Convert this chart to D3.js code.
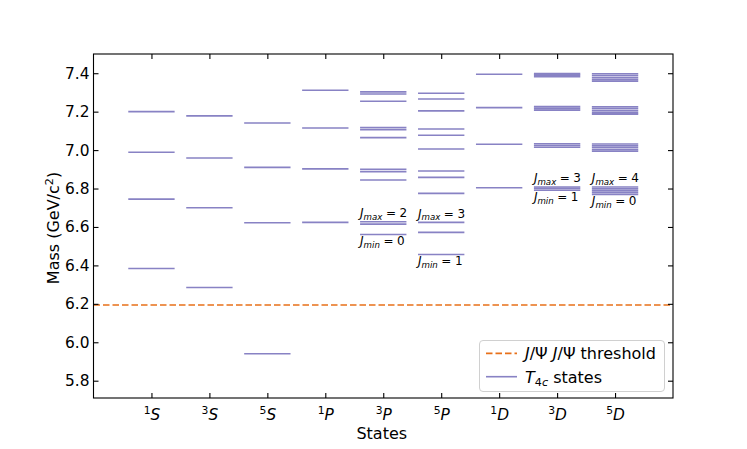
<!DOCTYPE html>
<html>
<head>
<meta charset="utf-8">
<script src="https://cdn.jsdelivr.net/npm/d3@7"></script>
<style>
  html, body { margin: 0; padding: 0; background: #fff; }
  svg { display: block; font-family: "DejaVu Sans", sans-serif; }
</style>
</head>
<body>
<svg id="chart" width="747" height="449"></svg>
<script>
// ---------------- data ----------------
const catSup   = ["1", "3", "5", "1", "3", "5", "1", "3", "5"];
const catL     = ["S", "S", "S", "P", "P", "P", "D", "D", "D"];
const categories = ["1S", "3S", "5S", "1P", "3P", "5P", "1D", "3D", "5D"];

const m1S = [7.200, 6.989, 6.745, 6.384];
const m3S = [7.178, 6.959, 6.700, 6.285];
const m5S = [7.141, 6.910, 6.622, 5.940];
const m1P = [7.311, 7.115, 6.902, 6.624];
const m3P = [7.303, 7.292, 7.254,  7.117, 7.106, 7.065,  6.900, 6.888, 6.844,  6.627, 6.615, 6.561];
const m5P = [7.296, 7.266, 7.204,  7.110, 7.077, 7.006,  6.891, 6.858, 6.775,  6.624, 6.572, 6.457];
const m1D = [7.395, 7.221, 7.030, 6.804];
const m3D = [7.398, 7.390, 7.382,  7.226, 7.217, 7.208,  7.033, 7.024, 7.015,  6.808, 6.800, 6.791];
const m5D = [7.397, 7.388, 7.378, 7.368, 7.359,  7.225, 7.215, 7.205, 7.195, 7.187,
             7.032, 7.022, 7.012, 7.002, 6.994,  6.808, 6.798, 6.788, 6.778, 6.769];
const masses = [m1S, m3S, m5S, m1P, m3P, m5P, m1D, m3D, m5D];

const threshold = 6.194;
const yTicks = [5.8, 6.0, 6.2, 6.4, 6.6, 6.8, 7.0, 7.2, 7.4];
const jLabels = [
  { state: "3P", jmax: 2, jmin: 0 },
  { state: "5P", jmax: 3, jmin: 1 },
  { state: "3D", jmax: 3, jmin: 1 },
  { state: "5D", jmax: 4, jmin: 0 }
];

// ---------------- layout ----------------
const L = 93.5, R = 673, T = 54, B = 398;
const halfW = 0.4;
const lineColor = "#5a52ad";
const lineOpacity = 0.72;
const orange = "#e8701a";
const fs = 15.4;
const lfs = 16;

const svg = d3.select("#chart");
const x = d3.scaleLinear().domain([0, 10]).range([L, R]);
const y = d3.scaleLinear().domain([5.71, 7.50]).range([B, T]);

// ---------------- levels ----------------
const levels = [];
masses.forEach((arr, i) => arr.forEach(m => levels.push({ i: i + 1, m })));

svg.append("g").selectAll("line").data(levels).join("line")
  .attr("x1", d => x(d.i - halfW)).attr("x2", d => x(d.i + halfW))
  .attr("y1", d => y(d.m)).attr("y2", d => y(d.m))
  .attr("stroke", lineColor).attr("stroke-opacity", lineOpacity)
  .attr("stroke-width", 1.6);

// threshold
svg.append("line")
  .attr("x1", x(0)).attr("x2", x(10))
  .attr("y1", y(threshold)).attr("y2", y(threshold))
  .attr("stroke", orange).attr("stroke-width", 1.7)
  .attr("stroke-dasharray", "6.5,3");

// ---------------- J labels ----------------
function mathJ(sel, sub, val, size) {
  sel.attr("font-size", size);
  sel.append("tspan").attr("font-style", "italic").text("J");
  sel.append("tspan").attr("font-style", "italic").attr("font-size", size * 0.72)
     .attr("dy", size * 0.2).text(sub);
  sel.append("tspan").attr("dy", -size * 0.2).attr("dx", 3.5).text("=");
  sel.append("tspan").attr("dx", 3.5).text(val);
}
jLabels.forEach(lab => {
  const idx = categories.indexOf(lab.state);
  const n = lab.jmax - lab.jmin + 1;
  const sorted = masses[idx].slice().sort((a, b) => a - b);
  const low = sorted.slice(0, n);
  const top = d3.max(low), bot = d3.min(low);
  const tx = x(idx + 1 - halfW);
  const t1 = svg.append("text").attr("x", tx).attr("y", y(top) - 4.5).attr("fill", "#000");
  mathJ(t1, "max", String(lab.jmax), 12);
  const t2 = svg.append("text").attr("x", tx).attr("y", y(bot) + 11).attr("fill", "#000");
  mathJ(t2, "min", String(lab.jmin), 12);
});

// ---------------- axes ----------------
const tickLen = 5;
const gL = svg.append("g").attr("transform", `translate(${L},0)`)
  .call(d3.axisLeft(y).tickValues(yTicks).tickFormat(d3.format(".1f"))
        .tickSizeInner(-tickLen).tickSizeOuter(0).tickPadding(4));
const gR = svg.append("g").attr("transform", `translate(${R},0)`)
  .call(d3.axisRight(y).tickValues(yTicks).tickFormat("")
        .tickSizeInner(-tickLen).tickSizeOuter(0));
const catVals = categories.map((c, i) => i + 1);
const gB = svg.append("g").attr("transform", `translate(0,${B})`)
  .call(d3.axisBottom(x).tickValues(catVals).tickFormat("")
        .tickSizeInner(-tickLen).tickSizeOuter(0));
const gT = svg.append("g").attr("transform", `translate(0,${T})`)
  .call(d3.axisTop(x).tickValues(catVals).tickFormat("")
        .tickSizeInner(-tickLen).tickSizeOuter(0));

[gL, gR, gB, gT].forEach(g => {
  g.select(".domain").remove();
  g.selectAll(".tick line").attr("stroke", "#000").attr("stroke-width", 1.1);
});
gL.selectAll(".tick text").attr("font-size", fs).attr("font-family", "DejaVu Sans").attr("fill", "#000");

// bottom category labels with superscripts
gB.selectAll(".tick").each(function(d, i) {
  const t = d3.select(this).select("text");
  t.text(null).attr("y", 21.5).attr("dy", 0).attr("font-size", fs)
   .attr("font-family", "DejaVu Sans").attr("fill", "#000").attr("text-anchor", "middle");
  t.append("tspan").attr("font-size", fs * 0.7).attr("dy", -6).text(catSup[i]);
  t.append("tspan").attr("font-style", "italic").attr("dy", 6).text(catL[i]);
});

// frame
svg.append("rect").attr("x", L).attr("y", T).attr("width", R - L).attr("height", B - T)
  .attr("fill", "none").attr("stroke", "#000").attr("stroke-width", 1.1);

// axis titles
svg.append("text").attr("x", (L + R) / 2 - 1.5).attr("y", 438.5).attr("text-anchor", "middle")
  .attr("font-size", lfs).attr("fill", "#000").text("States");
const yl = svg.append("text").attr("transform", `translate(59,${(T + B) / 2 + 2}) rotate(-90)`)
  .attr("text-anchor", "middle").attr("font-size", lfs).attr("fill", "#000");
yl.append("tspan").text("Mass (GeV/c");
yl.append("tspan").attr("font-size", lfs * 0.7).attr("dy", -6.5).text("2");
yl.append("tspan").attr("dy", 6.5).text(")");

// ---------------- legend ----------------
const lg = svg.append("g");
lg.append("rect").attr("x", 479.5).attr("y", 340.5).attr("width", 185).attr("height", 51)
  .attr("rx", 3.5).attr("fill", "#fff").attr("fill-opacity", 0.8)
  .attr("stroke", "#d0d0d0").attr("stroke-width", 1);
const rows = [353.3, 376.7];
lg.append("line").attr("x1", 486).attr("x2", 517).attr("y1", rows[0]).attr("y2", rows[0])
  .attr("stroke", orange).attr("stroke-width", 1.7).attr("stroke-dasharray", "6.5,3");
lg.append("line").attr("x1", 486).attr("x2", 517).attr("y1", rows[1]).attr("y2", rows[1])
  .attr("stroke", lineColor).attr("stroke-opacity", lineOpacity).attr("stroke-width", 1.6);
const lt1 = lg.append("text").attr("x", 525).attr("y", rows[0] + 5.8).attr("font-size", lfs).attr("fill", "#000");
lt1.append("tspan").attr("font-style", "italic").text("J");
lt1.append("tspan").text("/Ψ ");
lt1.append("tspan").attr("font-style", "italic").text("J");
lt1.append("tspan").text("/Ψ threshold");
const lt2 = lg.append("text").attr("x", 525).attr("y", rows[1] + 5.8).attr("font-size", lfs).attr("fill", "#000");
lt2.append("tspan").attr("font-style", "italic").text("T");
lt2.append("tspan").attr("font-size", lfs * 0.7).attr("dy", 3.5).text("4");
lt2.append("tspan").attr("font-size", lfs * 0.7).attr("font-style", "italic").text("c");
lt2.append("tspan").attr("dy", -3.5).text(" states");
</script>
</body>
</html>
